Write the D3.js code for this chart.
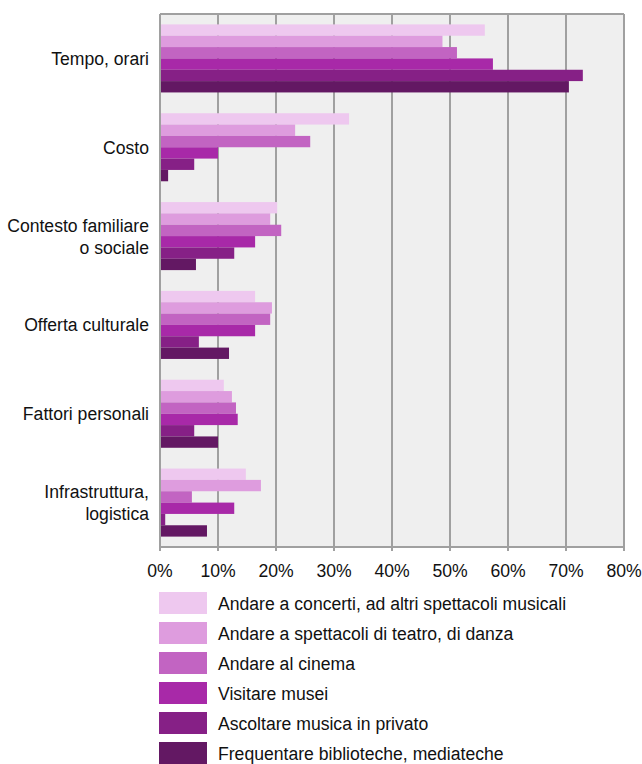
<!DOCTYPE html>
<html>
<head>
<meta charset="utf-8">
<script src="https://cdn.jsdelivr.net/npm/d3@7"></script>
<style>
  body { margin: 0; background: #fff; }
  text { font-family: "Liberation Sans", Arial, sans-serif; fill: #111; }
</style>
</head>
<body>
<div id="chart"></div>
<script>
// categories (top to bottom)
var categories = [
    ["Tempo, orari"],
    ["Costo"],
    ["Contesto familiare", "o sociale"],
    ["Offerta culturale"],
    ["Fattori personali"],
    ["Infrastruttura,", "logistica"]
];

var seriesNames = [
    "Andare a concerti, ad altri spettacoli musicali",
    "Andare a spettacoli di teatro, di danza",
    "Andare al cinema",
    "Visitare musei",
    "Ascoltare musica in privato",
    "Frequentare biblioteche, mediateche"
];

// one array per series, in category order
var concerti   = [56.0, 32.6, 20.2, 16.4, 11.0, 14.8];
var teatro     = [48.7, 23.3, 19.0, 19.3, 12.4, 17.4];
var cinema     = [51.2, 25.9, 20.9, 19.0, 13.1, 5.5];
var musei      = [57.4, 10.0, 16.4, 16.4, 13.4, 12.8];
var musica     = [72.9, 5.9, 12.8, 6.7, 5.9, 0.9];
var biblioteche = [70.5, 1.4, 6.2, 11.9, 10.0, 8.1];

var seriesValues = [concerti, teatro, cinema, musei, musica, biblioteche];
var colors = ["#eec8ef", "#de9cde", "#c264c2", "#a829a8", "#862086", "#631863"];
var ticks = [0, 10, 20, 30, 40, 50, 60, 70, 80];

var W = 642, H = 764, fs = 17.6;
var plot = {left: 160, top: 14, right: 624, bottom: 547};

var svg = d3.select("#chart").append("svg")
            .attr("width", W)
            .attr("height", H);

var x = d3.scaleLinear().domain([0, 80]).range([plot.left, plot.right]);
var y0 = d3.scaleBand()
           .domain(d3.range(categories.length))
           .range([plot.top, plot.bottom])
           .paddingInner(0.234)
           .paddingOuter(0.117);
var y1 = d3.scaleBand()
           .domain(d3.range(seriesNames.length))
           .range([0, y0.bandwidth()]);

// background
svg.append("rect")
   .attr("x", plot.left)
   .attr("y", plot.top)
   .attr("width", plot.right - plot.left)
   .attr("height", plot.bottom - plot.top)
   .attr("fill", "#efefef");

// grid lines
svg.selectAll("line.grid")
   .data(ticks)
   .enter()
   .append("line")
   .attr("class", "grid")
   .attr("x1", function(d) { return x(d); })
   .attr("x2", function(d) { return x(d); })
   .attr("y1", plot.top)
   .attr("y2", plot.bottom + 4)
   .attr("stroke", "#a0a0a0")
   .attr("stroke-width", 2);

// top and bottom border
svg.append("line")
   .attr("x1", plot.left).attr("x2", plot.right)
   .attr("y1", plot.top).attr("y2", plot.top)
   .attr("stroke", "#a0a0a0").attr("stroke-width", 2);
svg.append("line")
   .attr("x1", plot.left).attr("x2", plot.right)
   .attr("y1", plot.bottom).attr("y2", plot.bottom)
   .attr("stroke", "#a0a0a0").attr("stroke-width", 2);

// bars
var groups = svg.selectAll("g.cat")
   .data(categories)
   .enter()
   .append("g")
   .attr("class", "cat")
   .attr("transform", function(d, i) { return "translate(0," + y0(i) + ")"; });

groups.selectAll("rect")
   .data(function(d, i) { return seriesValues.map(function(s, j) { return {s: j, v: s[i]}; }); })
   .enter()
   .append("rect")
   .attr("x", x(0) + 1)
   .attr("y", function(d) { return y1(d.s); })
   .attr("width", function(d) { return x(d.v) - x(0) - 1; })
   .attr("height", y1.bandwidth())
   .attr("fill", function(d) { return colors[d.s]; });

// left axis line (drawn over bars)
svg.append("line")
   .attr("x1", plot.left).attr("x2", plot.left)
   .attr("y1", plot.top).attr("y2", plot.bottom + 4)
   .attr("stroke", "#a0a0a0").attr("stroke-width", 2);

// category labels
groups.each(function(d, i) {
    var t = d3.select(this).append("text")
              .attr("text-anchor", "end")
              .attr("font-size", fs);
    var cy = y0.bandwidth() / 2;
    var start = cy - (d.length - 1) * 11 + 6.5;
    d.forEach(function(line, k) {
        t.append("tspan")
         .attr("x", 149)
         .attr("y", start + k * 22)
         .text(line);
    });
});

// x tick labels
svg.selectAll("text.tick")
   .data(ticks)
   .enter()
   .append("text")
   .attr("class", "tick")
   .attr("x", function(d) { return x(d); })
   .attr("y", 577)
   .attr("text-anchor", "middle")
   .attr("font-size", fs)
   .text(function(d) { return d + "%"; });

// legend
var legend = svg.selectAll("g.legend")
   .data(seriesNames)
   .enter()
   .append("g")
   .attr("class", "legend")
   .attr("transform", function(d, i) { return "translate(159," + (592 + i * 30) + ")"; });

legend.append("rect")
      .attr("width", 48)
      .attr("height", 22)
      .attr("fill", function(d, i) { return colors[i]; });

legend.append("text")
      .attr("x", 59)
      .attr("y", 18)
      .attr("font-size", fs)
      .text(function(d) { return d; });
</script>
</body>
</html>
